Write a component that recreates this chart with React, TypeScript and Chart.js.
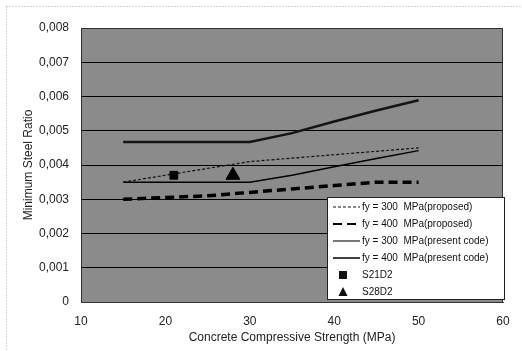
import React, { useEffect, useRef } from 'react';
import { Chart, registerables } from 'chart.js';

Chart.register(...registerables);

// ---- data ----
const strengths = [15, 20, 25, 30, 35, 40, 45, 50];
const fy300Proposed = [0.0035, 0.0037, 0.0039, 0.0041, 0.0042, 0.0043, 0.0044, 0.0045];
const fy400Proposed = [0.0030, 0.00305, 0.0031, 0.0032, 0.0033, 0.0034, 0.0035, 0.0035];
const fy300Present = [0.00467, 0.00467, 0.00467, 0.00467, 0.00493, 0.00527, 0.00559, 0.00589];
const fy400Present = [0.0035, 0.0035, 0.0035, 0.0035, 0.0037, 0.00395, 0.00419, 0.00442];
const specimenNames = ['S21D2', 'S28D2'];
const specimenStrength = [21, 28];
const specimenRatio = [0.0037, 0.0037];
const seriesNames = [
  'fy = 300  MPa(proposed)',
  'fy = 400  MPa(proposed)',
  'fy = 300  MPa(present code)',
  'fy = 400  MPa(present code)',
];
const xTickLabels = ['10', '20', '30', '40', '50', '60'];
const yTickLabels = ['0', '0,001', '0,002', '0,003', '0,004', '0,005', '0,006', '0,007', '0,008'];
const xTitle = 'Concrete Compressive Strength (MPa)';
const yTitle = 'Minimum Steel Ratio';

const FONT = '"Liberation Sans", Arial, sans-serif';

const pts = (ys: number[]) => strengths.map((x, i) => ({ x, y: ys[i] }));

const bgPlugin = {
  id: 'plotBg',
  beforeDraw(chart: any) {
    const { ctx, chartArea: a } = chart;
    ctx.save();
    ctx.fillStyle = '#8b8b8b';
    ctx.fillRect(a.left, a.top, a.right - a.left, a.bottom - a.top);
    ctx.restore();
  },
  afterDraw(chart: any) {
    const { ctx, chartArea: a } = chart;
    ctx.save();
    // plot border
    ctx.strokeStyle = '#333';
    ctx.lineWidth = 1;
    ctx.strokeRect(a.left + 0.5, a.top + 0.5, a.right - a.left - 1, a.bottom - a.top);
    // outer dotted frame
    ctx.strokeStyle = '#aaa';
    ctx.setLineDash([1, 2]);
    ctx.strokeRect(6.5, 6.5, 530, 360);
    ctx.setLineDash([]);

    // legend box
    const bx = a.right - 176;
    const by = a.bottom - 105;
    const bw = 178;
    const bh = 103;
    ctx.fillStyle = '#ffffff';
    ctx.fillRect(bx, by, bw, bh);
    ctx.strokeStyle = '#222';
    ctx.lineWidth = 1;
    ctx.strokeRect(bx + 0.5, by + 0.5, bw - 1, bh - 1);
    ctx.font = '10px ' + FONT;
    ctx.textBaseline = 'middle';
    ctx.textAlign = 'left';
    const ds = chart.data.datasets;
    ds.forEach((d: any, i: number) => {
      const cy = by + 10 + i * 17;
      const sx = bx + 6;
      const ex = bx + 33;
      if (d.type === 'scatter') {
        ctx.fillStyle = '#111';
        const mx = bx + 16;
        if (d.pointStyle === 'rect') {
          ctx.fillRect(mx - 4, cy - 4, 8, 8);
        } else {
          ctx.beginPath();
          ctx.moveTo(mx, cy - 5);
          ctx.lineTo(mx + 4.5, cy + 4);
          ctx.lineTo(mx - 4.5, cy + 4);
          ctx.closePath();
          ctx.fill();
        }
      } else {
        ctx.strokeStyle = d.legendColor || d.borderColor;
        ctx.lineWidth = Math.min(d.borderWidth, 2);
        ctx.setLineDash(d.borderDash || []);
        ctx.beginPath();
        ctx.moveTo(sx, cy);
        ctx.lineTo(ex, cy);
        ctx.stroke();
        ctx.setLineDash([]);
      }
      ctx.fillStyle = '#111';
      ctx.fillText(d.label, bx + 35, cy);
    });
    ctx.restore();
  },
};

export default function App() {
  const ref = useRef<HTMLCanvasElement>(null);
  useEffect(() => {
    const canvas = ref.current!;
    const chart = new Chart(canvas, {
      type: 'line',
      data: {
        datasets: [
          {
            label: seriesNames[0],
            data: pts(fy300Proposed),
            borderColor: '#111',
            borderWidth: 1.2,
            borderDash: [3, 2],
            pointRadius: 0,
          },
          {
            label: seriesNames[1],
            data: pts(fy400Proposed),
            borderColor: '#000',
            borderWidth: 3.5,
            borderDash: [9, 5],
            pointRadius: 0,
          },
          {
            label: seriesNames[2],
            data: pts(fy300Present),
            borderColor: '#141414',
            legendColor: '#777',
            borderWidth: 2.5,
            pointRadius: 0,
          },
          {
            label: seriesNames[3],
            data: pts(fy400Present),
            borderColor: '#000',
            borderWidth: 1.5,
            pointRadius: 0,
          },
          {
            type: 'scatter',
            label: specimenNames[0],
            data: [{ x: specimenStrength[0], y: specimenRatio[0] }],
            pointStyle: 'rect',
            pointRadius: 5.5,
            backgroundColor: '#000',
            borderColor: '#000',
          },
          {
            type: 'scatter',
            label: specimenNames[1],
            data: [{ x: specimenStrength[1], y: specimenRatio[1] }],
            pointStyle: 'triangle',
            pointRadius: 8,
            backgroundColor: '#000',
            borderColor: '#000',
          },
        ] as any,
      },
      plugins: [bgPlugin],
      options: {
        animation: false,
        responsive: false,
        maintainAspectRatio: false,
        layout: { padding: { left: 0, top: 28, right: 19, bottom: 0 } },
        plugins: { legend: { display: false }, tooltip: { enabled: false } },
        scales: {
          x: {
            type: 'linear',
            min: 10,
            max: 60,
            afterFit: (s: any) => { s.height = 49; },
            grid: { display: false, drawTicks: false },
            border: { display: true, color: '#333' },
            ticks: {
              stepSize: 10,
              padding: 12,
              color: '#222',
              font: { family: FONT, size: 12 },
              callback: (_v: any, i: number) => xTickLabels[i],
            },
            title: {
              display: true,
              text: xTitle,
              color: '#222',
              font: { family: FONT, size: 12 },
              padding: { top: 0, bottom: 6 },
            },
          },
          y: {
            min: 0,
            max: 0.008,
            afterFit: (s: any) => { s.width = 81; },
            grid: { color: '#000', lineWidth: 1, drawTicks: false },
            border: { display: true, color: '#333' },
            ticks: {
              stepSize: 0.001,
              padding: 12,
              color: '#222',
              font: { family: FONT, size: 12 },
              callback: (_v: any, i: number) => yTickLabels[i],
            },
            title: {
              display: true,
              text: yTitle,
              color: '#222',
              font: { family: FONT, size: 12 },
              padding: { top: 21, bottom: 0 },
            },
          },
        },
      } as any,
    });
    return () => chart.destroy();
  }, []);
  return (
    <div style={{ position: 'fixed', left: 0, top: 0, width: 522, height: 351 }}>
      <canvas ref={ref} width={522} height={351} style={{ width: 522, height: 351 }} />
    </div>
  );
}
